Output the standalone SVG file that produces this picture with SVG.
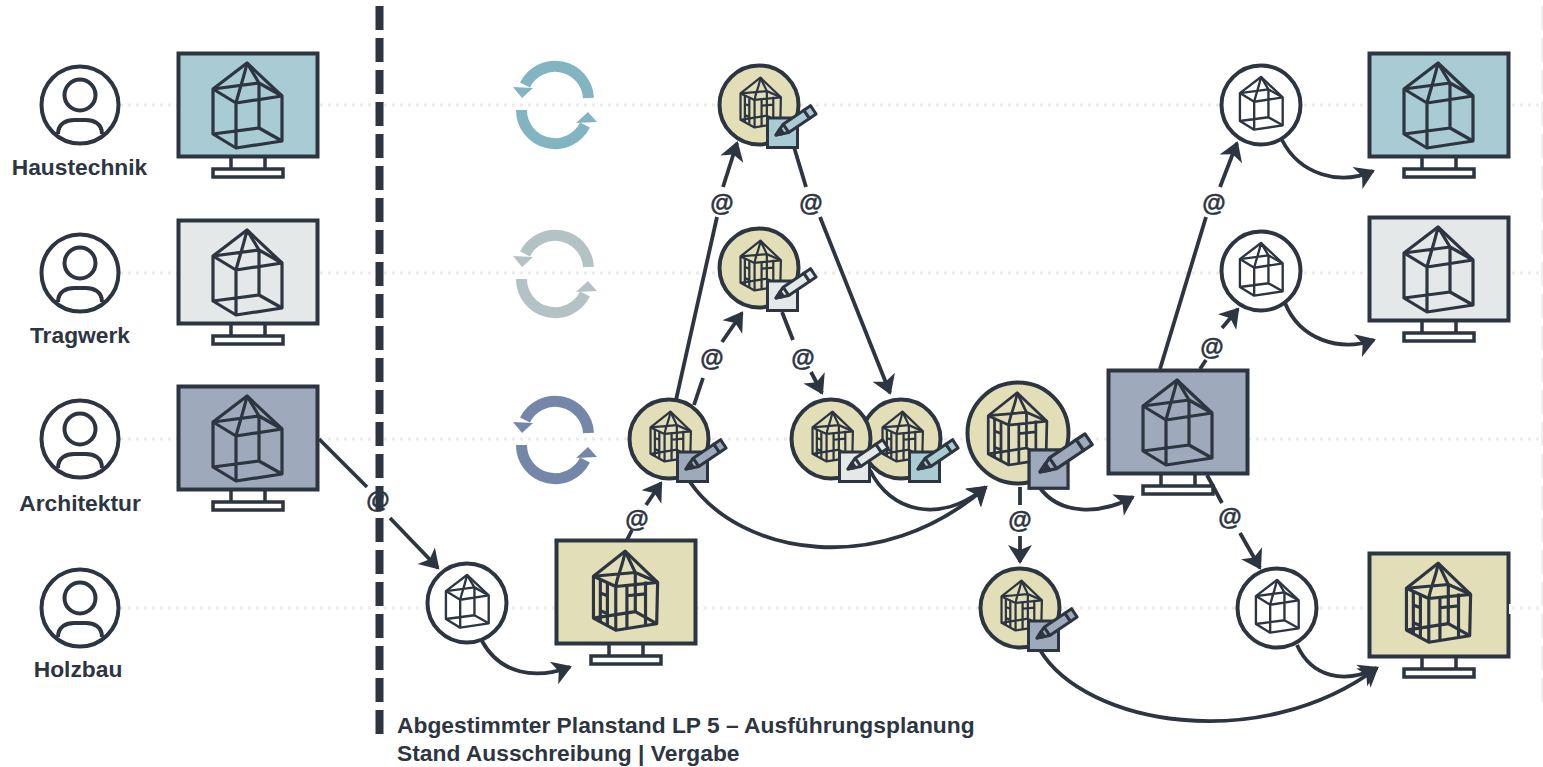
<svg xmlns="http://www.w3.org/2000/svg" width="1543" height="767" viewBox="0 0 1543 767">
<style>
text{font-family:"Liberation Sans",Arial,sans-serif;font-weight:700;fill:#2d3541}
.lbl{font-size:22.8px;text-anchor:middle}
.at{font-size:24px;text-anchor:middle;stroke:#2d3541;stroke-width:.5px}
.cap{font-size:22.8px}
.dot{stroke:#ebebeb;stroke-width:3;stroke-dasharray:3 5;fill:none}
.ln{stroke:#2d3541;fill:none;stroke-linejoin:round}
.con{stroke:#2d3541;stroke-width:3.8;fill:none}
.arr{marker-end:url(#ah)}
.scr{stroke:#2d3541;stroke-width:4}
.circ{stroke:#2d3541;stroke-width:4}
.teal{fill:#a9cbd4}.grey{fill:#e4e8e9}.arch{fill:#9ea9bb}.wood{fill:#e1deb8}
</style>
<defs>
<marker id="ah" markerUnits="userSpaceOnUse" markerWidth="28" markerHeight="28" viewBox="-21 -14 28 28" refX="0" refY="0" orient="auto">
<path d="M2,0 L-17,-12 L-12,0 L-17,12 Z" fill="#2d3541"/>
</marker>
<g id="house" class="ln">
<path d="M0,-42 L-34,-16 L-34,29 L-11,43 L35,36 L35,-9 Z"/>
<path d="M-34,-16 L-11,-2 L35,-9 M-34,-16 L12,-22 L35,-9 M0,-42 L12,-22 L12,23 M0,-42 C-3,-28 -8,-14 -11,-2 L-11,43 M-34,29 L12,23 L35,36"/>
</g>
<g id="woodhouse" class="ln">
<path d="M-1,-45 L-35,-18 L-35,27 L-11,40 L33,33 L34,-11.5 Z"/>
<path d="M-35,-18 L-11,-7 L34,-11.5 M-35,-18 L10,-22 L34,-11.5 M-1,-45 L10,-22 L10,20 M-1,-45 C-3,-30 -9,-20 -11,-7 L-11,40 M-35,27 L10,20 L33,33"/>
<path d="M-27.6,-14 V31.5 M-20,-10 V36 M-27.6,0 L-20,3 M-27.6,19 L-20,22 M1,-9 V37.6 M21,-12.5 V34 M1,3 L21,1"/>
</g>
<g id="stand" fill="#fff" stroke="#2d3541" stroke-width="3.5">
<path d="M54,106 V118 M88,106 V118" fill="none"/>
<rect x="36" y="117" width="70" height="8"/>
</g>
<g id="person">
<circle r="38.5" fill="#fff" stroke="#2d3541" stroke-width="4"/>
<circle cy="-10" r="15.5" fill="none" stroke="#2d3541" stroke-width="4"/>
<path d="M-22,29 C-22,18 -13,15 -6,15 H6 C13,15 22,18 22,29" fill="none" stroke="#2d3541" stroke-width="4"/>
</g>
<g id="badge" stroke="#2d3541">
<rect x="8.5" y="13" width="30" height="29.5"/>
<g transform="translate(17,30) rotate(-34)" stroke-linejoin="round">
<path d="M0,0 L12,-5 H37 V5 H12 Z"/>
<path d="M0,0 L7,-3 V3 Z" fill="#2d3541"/>
<path d="M12,-5 V5 M37,-5 H45 V5 H37 Z"/>
</g>
</g>
<g id="woodedit">
<circle r="39.5" class="wood circ"/>
<use href="#woodhouse" transform="translate(2,-1) scale(.585)" stroke-width="3.8"/>
</g>
<g id="simple">
<circle r="39.5" fill="#fff" class="circ"/>
<use href="#house" transform="translate(0,-2) scale(.62)" stroke-width="3.8"/>
</g>
<path id="cycle" fill="none" stroke-width="11" d="M588.5,98 A33.5,33.5 0 0 0 525,85 M521.5,110 A33.5,33.5 0 0 0 585,125"/>
<path id="heads" stroke="none" d="M513,87 L533,88 L522,98 Z M576,123 L597,122 L588,112 Z"/>
</defs>
<rect width="1543" height="767" fill="#fff"/>
<g id="grid">
<path class="dot" d="M120,105H1540M120,273H1540M120,439H1540M120,608H1540"/>
<path d="M1542,6V702" stroke="#eeeeee" stroke-width="2" stroke-dasharray="24 8" fill="none"/>
</g>
<path id="divider" d="M379.5,6V734" stroke="#2d3541" stroke-width="8" stroke-dasharray="24 8" fill="none"/>
<g id="cycles">
<g id="cycle-1" stroke="#83b4c2" fill="#83b4c2"><use href="#cycle"/><use href="#heads"/></g>
<g id="cycle-2" stroke="#b3c3c5" fill="#b3c3c5" transform="translate(0,169)"><use href="#cycle"/><use href="#heads"/></g>
<g id="cycle-3" stroke="#7587a8" fill="#7587a8" transform="translate(0,335)"><use href="#cycle"/><use href="#heads"/></g>
</g>
<g id="connectors">
<path class="con" d="M319,439L367,487"/><path class="con arr" d="M390,518L438,568"/>
<path class="con arr" d="M482,641C500,674 535,680 570,667"/>
<path class="con" d="M627,540L632,530"/><path class="con arr" d="M646,505L661,483"/>
<path class="con" d="M676,400L717,217"/><path class="con arr" d="M723,187L737,143"/>
<path class="con" d="M694,405L703,378"/><path class="con arr" d="M722,342L742,313"/>
<path class="con" d="M794,147L806,187"/><path class="con arr" d="M820,217L890,393"/>
<path class="con" d="M782,312L793,340"/><path class="con arr" d="M811,372L822,393"/>
<path class="con arr" d="M690,482C740,555 880,580 986,487"/>
<path class="con arr" d="M870,470C890,512 940,525 986,487"/>
<path class="con" d="M1020,487V505"/><path class="con arr" d="M1020,536V562"/>
<path class="con arr" d="M1040,488C1060,515 1100,515 1133,497"/>
<path class="con" d="M1160,369L1206,217"/><path class="con arr" d="M1220,187L1237,143"/>
<path class="con" d="M1200,369L1206,360"/><path class="con arr" d="M1222,328L1238,309"/>
<path class="con" d="M1207,475L1222,503"/><path class="con arr" d="M1240,533L1260,568"/>
<path class="con arr" d="M1282,140C1300,175 1340,186 1373,171"/>
<path class="con arr" d="M1285,303C1300,340 1340,352 1374,340"/>
<path class="con arr" d="M1297,645C1312,678 1345,684 1377,668"/>
<path class="con arr" d="M1040,650C1085,725 1260,755 1377,668"/>
</g>
<g id="at-labels">
<text class="at" x="378" y="508">@</text><text class="at" x="637" y="527">@</text><text class="at" x="722" y="211">@</text><text class="at" x="712" y="366">@</text><text class="at" x="811" y="211">@</text><text class="at" x="803" y="366">@</text><text class="at" x="1020" y="528">@</text><text class="at" x="1214" y="211">@</text><text class="at" x="1212" y="355">@</text><text class="at" x="1230" y="525">@</text>
</g>
<g id="p-haustechnik"><use href="#person" x="80" y="105"/><text class="lbl" x="79.500" y="175">Haustechnik</text></g>
<g id="p-tragwerk"><use href="#person" x="80" y="273"/><text class="lbl" x="80" y="343">Tragwerk</text></g>
<g id="p-architektur"><use href="#person" x="80" y="439"/><text class="lbl" x="80" y="511">Architektur</text></g>
<g id="p-holzbau"><use href="#person" x="80" y="608"/><text class="lbl" x="78" y="677">Holzbau</text></g>
<g id="m-ht" transform="translate(177,52)"><use href="#stand"/><rect class="teal scr" x="1.500" y="1.500" width="139" height="103"/><use href="#house" x="70" y="53" stroke-width="3.2"/></g>
<g id="m-tw" transform="translate(177,219)"><use href="#stand"/><rect class="grey scr" x="1.500" y="1.500" width="139" height="103"/><use href="#house" x="70" y="53" stroke-width="3.2"/></g>
<g id="m-ar" transform="translate(177,385)"><use href="#stand"/><rect class="arch scr" x="1.500" y="1.500" width="139" height="103"/><use href="#house" x="70" y="53" stroke-width="3.2"/></g>
<g id="m-hb" transform="translate(555,539)"><use href="#stand"/><rect class="wood scr" x="1.500" y="1.500" width="139" height="103"/><use href="#woodhouse" transform="translate(71,54) scale(.93)" stroke-width="3.4"/></g>
<g id="m-coord" transform="translate(1107,369)"><use href="#stand"/><rect class="arch scr" x="1.500" y="1.500" width="139" height="103"/><use href="#house" x="70" y="53" stroke-width="3.2"/></g>
<g id="m-ht2" transform="translate(1368,52)"><use href="#stand"/><rect class="teal scr" x="1.500" y="1.500" width="139" height="103"/><use href="#house" x="70" y="53" stroke-width="3.2"/></g>
<g id="m-tw2" transform="translate(1368,216)"><use href="#stand"/><rect class="grey scr" x="1.500" y="1.500" width="139" height="103"/><use href="#house" x="70" y="53" stroke-width="3.2"/></g>
<g id="m-hb2" transform="translate(1368,552)"><use href="#stand"/><rect class="wood scr" x="1.500" y="1.500" width="139" height="103"/><use href="#woodhouse" transform="translate(71,53) scale(.93)" stroke-width="3.4"/><rect x="141" y="52" width="2" height="10" fill="#fff"/></g>
<g id="c-start" transform="translate(467,603)"><use href="#simple"/></g>
<g id="c-ht" transform="translate(759,105)"><use href="#woodedit"/><use href="#badge" class="teal" stroke-width="3"/></g>
<g id="c-tw" transform="translate(759,268)"><use href="#woodedit"/><use href="#badge" class="grey" stroke-width="3"/></g>
<g id="c-ar" transform="translate(669,439)"><use href="#woodedit"/><use href="#badge" class="arch" stroke-width="3"/></g>
<g id="c-ht-back" transform="translate(901,439)"><use href="#woodedit"/><use href="#badge" class="teal" stroke-width="3"/></g>
<g id="c-tw-back" transform="translate(831,439)"><use href="#woodedit"/><use href="#badge" class="grey" stroke-width="3"/></g>
<g id="c-big" transform="translate(1018,433)"><circle r="50.500" class="wood circ"/><use href="#woodhouse" transform="translate(0,-2) scale(.85)" stroke-width="3.2"/><use href="#badge" class="arch" transform="scale(1.3)" stroke-width="2.5"/></g>
<g id="c-hb" transform="translate(1020,608)"><use href="#woodedit"/><use href="#badge" class="arch" stroke-width="3"/></g>
<g id="c-ht2" transform="translate(1261,105)"><use href="#simple"/></g>
<g id="c-tw2" transform="translate(1261,271)"><use href="#simple"/></g>
<g id="c-hb2" transform="translate(1277,608)"><use href="#simple"/></g>
<g id="caption"><text class="cap" x="397" y="733">Abgestimmter Planstand LP 5 – Ausführungsplanung</text><text class="cap" x="397" y="761">Stand Ausschreibung | Vergabe</text></g>
</svg>
